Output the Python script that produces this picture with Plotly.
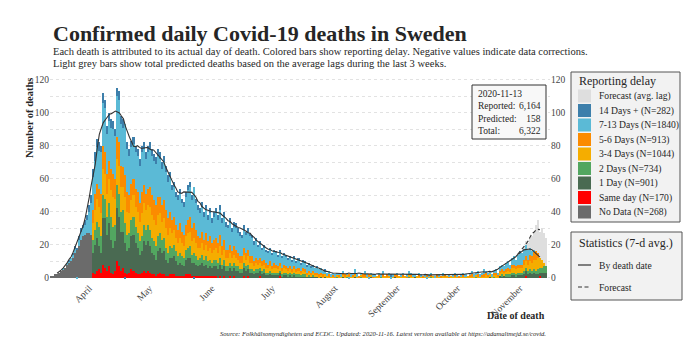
import pandas as pd
import plotly.graph_objects as go

dates = pd.date_range("2020-03-11", "2020-11-12", freq="D")

# ---- daily deaths by reporting delay (Mar 11 .. Nov 12) ----
no_data = (
    [1,1,2,2,3,4,5,6,8,9,10,12,15,17,19,23,25,26,27,27,26]                                   # Mar 11-31
    + [0,0,0,0,0,0,0,0,0,0,0,0,0,0,0,0,0,0,0,0,0,0,0,0,0,0,0,0,0,0]                          # Apr
    + [0,0,0,0,0,0,0,0,0,0,0,0,0,0,0,0,0,0,0,0,0,0,0,0,0,0,0,0,0,0,0]                        # May
    + [0,0,0,0,0,0,0,0,0,0,0,0,0,0,0,0,0,0,0,0,0,0,0,0,0,0,0,0,0,0]                          # Jun
    + [0,0,0,0,0,0,0,0,0,0,0,0,0,0,0,0,0,0,0,0,0,0,0,0,0,0,0,0,0,0,0]                        # Jul
    + [0,0,0,0,0,0,0,0,0,0,0,0,0,0,0,0,0,0,0,0,0,0,0,0,0,0,0,0,0,0,0]                        # Aug
    + [0,0,0,0,0,0,0,0,0,0,0,0,0,0,0,0,0,0,0,0,0,0,0,0,0,0,0,0,0,0]                          # Sep
    + [0,0,0,0,0,0,0,0,0,0,0,0,0,0,0,0,0,0,0,0,0,0,0,0,0,0,0,0,0,0,0]                        # Oct
    + [0,0,0,0,0,0,0,0,0,0,0,0]                                                              # Nov 1-12
)
same_day = (
    [0,0,0,0,0,0,0,0,0,0,0,0,0,0,0,0,0,0,0,0,0]
    + [3,2,4,5,3,8,6,4,7,3,2,4,10,7,4,6,3,2,3,5,4,3,2,2,3,4,3,4,3,2]
    + [2,1,2,3,2,2,1,1,2,2,2,1,1,1,1,1,2,2,2,1,1,1,1,1,1,1,1,1,1,1,1]
    + [1,0,1,0,1,0,0,1,0,1,0,0,0,0,1,0,1,0,0,0,0,0,1,0,0,0,0,0,0,0]
    + [0,0,1,0,0,0,0,0,0,0,0,0,0,0,0,0,0,0,0,0,0,0,0,0,0,0,0,0,0,0,0]
    + [0,0,0,0,0,0,0,0,0,0,0,0,0,0,0,0,0,0,0,0,0,0,0,0,0,0,0,0,0,0,0]
    + [0,0,0,0,0,0,0,0,0,0,0,0,0,0,0,0,0,0,0,0,0,0,0,0,0,0,0,0,0,0]
    + [0,0,0,0,0,0,0,0,0,0,0,0,0,0,0,0,0,0,0,0,0,0,0,0,0,0,0,0,0,0,0]
    + [0,1,0,0,0,0,0,0,1,0,0,0]
)
day_1 = (
    [0,0,0,0,0,0,0,0,0,0,0,0,0,0,0,0,0,0,0,0,0]
    + [12,18,20,14,12,28,30,22,26,20,16,18,32,30,24,22,18,14,15,20,22,18,16,12,13,18,17,18,16,13]
    + [12,10,14,15,13,14,10,8,10,10,11,9,7,8,7,6,9,10,10,8,8,7,6,7,8,6,7,5,6,5,6]
    + [6,5,7,5,6,4,4,5,4,5,4,4,3,3,5,4,4,3,3,2,3,3,3,2,3,2,2,2,2,2]
    + [2,2,2,1,2,2,1,2,1,2,1,1,1,1,1,1,1,1,1,1,1,0,1,0,1,0,0,0,0,0,0]
    + [0,0,1,0,0,0,0,0,1,0,0,0,0,0,0,0,1,0,0,0,0,0,0,0,0,0,0,0,1,0,0]
    + [0,0,0,0,0,0,0,1,0,0,0,0,0,0,0,0,0,0,0,0,0,0,0,0,0,0,0,0,0,0]
    + [0,0,0,0,0,0,0,0,0,0,0,0,0,0,1,0,0,0,0,1,1,1,1,1,1,2,2,1,2,2,2]
    + [2,3,2,3,2,3,2,2,2,3,3,3]
)
day_2 = (
    [0,0,0,0,0,0,0,0,0,0,0,0,0,0,0,0,0,0,0,0,0]
    + [8,9,10,12,10,14,12,11,12,14,13,10,14,14,12,13,12,10,9,10,11,10,9,8,9,10,9,10,10,9]
    + [8,8,9,9,8,8,7,6,7,6,7,6,5,6,5,5,6,6,7,5,6,5,4,4,5,4,5,4,4,3,4]
    + [4,4,4,3,4,3,3,3,3,3,3,3,2,2,3,3,3,2,2,2,2,2,2,2,2,1,1,2,1,1]
    + [1,1,1,1,1,1,1,1,1,1,1,1,1,1,1,0,1,0,1,0,0,0,0,0,0,0,0,0,0,0,1]
    + [0,0,0,0,1,0,0,0,0,0,0,1,0,0,0,0,0,0,0,0,0,1,0,0,0,0,0,0,0,0,0]
    + [0,0,0,0,1,0,0,0,0,0,0,0,0,0,0,1,0,0,0,0,0,0,0,0,0,0,0,0,0,0]
    + [0,0,0,0,0,0,0,1,0,0,0,0,0,0,0,0,1,0,0,0,1,0,1,1,1,1,1,1,1,1,1]
    + [2,2,2,2,2,2,2,3,3,3,4,4]
)
days_3_4 = (
    [0,0,0,0,0,0,0,0,0,0,0,0,0,0,0,0,0,0,0,0,0]
    + [10,12,14,12,14,16,15,14,15,16,18,16,16,17,15,14,16,14,12,12,13,12,13,12,14,13,12,12,14,14]
    + [13,13,13,12,11,12,12,11,11,9,9,8,8,9,8,7,8,9,9,8,9,8,7,6,7,6,7,6,7,6,6]
    + [7,6,7,6,6,5,5,6,5,5,5,4,4,4,5,4,5,4,4,3,4,3,3,3,3,3,3,3,2,3]
    + [3,2,3,2,3,2,2,2,2,2,2,2,1,2,2,1,1,1,1,1,1,1,1,1,1,1,1,1,1,0,1]
    + [1,1,1,1,1,1,1,1,1,1,0,1,1,1,1,1,1,0,1,1,1,0,1,1,1,1,0,1,0,1,1]
    + [1,1,1,0,1,1,1,0,1,1,1,0,1,1,1,0,1,0,1,1,0,1,1,1,0,1,1,1,1,0]
    + [1,1,1,1,1,1,1,1,1,1,1,1,2,1,1,1,1,2,1,2,2,2,2,2,2,3,3,3,3,3,3]
    + [4,4,4,5,5,6,7,7,6,5,2,0]
)
days_5_6 = (
    [0,0,0,0,0,0,0,0,0,0,0,0,0,0,0,0,0,0,0,0,0]
    + [8,10,9,11,12,14,13,12,11,13,14,12,13,14,13,12,13,12,11,10,10,11,12,11,13,11,10,10,12,12]
    + [12,12,11,10,10,11,11,10,10,8,8,8,8,9,7,7,7,8,9,8,9,8,7,6,7,6,7,6,7,6,6]
    + [6,6,7,5,6,5,5,5,4,5,5,4,4,4,4,4,4,4,4,3,3,3,3,3,3,3,2,3,2,3]
    + [2,2,2,2,2,2,2,2,1,2,1,2,1,2,1,1,1,1,1,1,1,1,1,1,0,0,1,0,1,1,0]
    + [1,0,1,1,0,1,0,1,1,0,1,0,1,1,0,1,0,1,0,0,1,0,1,0,1,0,1,0,1,1,0]
    + [0,1,0,1,0,1,0,0,0,1,0,1,0,1,0,1,0,0,1,0,1,0,1,0,1,0,0,1,0,1]
    + [0,1,0,0,1,1,0,0,1,0,1,1,1,1,0,0,1,1,1,1,1,1,1,2,1,2,2,2,2,2,2]
    + [3,3,3,4,4,5,5,3,0,0,0,0]
)
days_7_13 = (
    [0,0,0,0,0,0,1,0,1,1,2,2,3,-1,4,5,5,6,8,13,19]
    + [20,20,22,23,25,26,27,24,24,25,27,26,25,26,25,24,31,26,24,22,21,22,22,23,24,22,21,22,23,24]
    + [24,25,25,23,22,23,23,22,21,18,18,17,18,18,17,17,17,18,18,17,22,16,16,15,15,14,14,13,14,12,14]
    + [15,14,15,14,14,14,13,13,12,12,13,12,12,11,11,11,11,12,11,10,10,8,8,7,7,7,7,7,7,7]
    + [7,6,7,6,6,6,5,5,5,5,4,5,4,4,4,4,4,3,3,3,3,3,3,2,2,2,2,1,1,1,1]
    + [1,1,1,0,1,-1,1,1,2,1,0,1,0,2,1,-1,1,1,1,0,1,1,2,0,0,2,-1,1,0,1,0]
    + [1,1,0,1,2,1,1,1,0,1,1,0,1,-1,1,1,0,1,0,1,0,2,0,0,1,0,1,1,1,0]
    + [1,1,1,0,1,2,1,1,2,1,1,3,1,1,2,1,1,2,1,3,3,3,4,4,3,4,5,4,6,8,7]
    + [7,7,6,4,3,1,0,0,0,0,0,0]
)
days_14_plus = (
    [0,0,0,0,0,0,0,0,0,1,0,1,1,1,2,2,2,3,3,4,5]
    + [5,5,5,5,4,6,5,5,5,5,5,4,5,5,5,5,-1,4,4,4,4,4,4,4,4,4,4,4,4,4]
    + [4,4,4,4,4,4,4,4,3,3,3,3,3,3,3,3,3,3,3,3,-1,3,3,3,3,3,3,3,3,3,3]
    + [3,3,3,3,3,3,2,3,2,3,3,3,3,2,3,2,2,2,2,2,2,1,2,1,2,1,1,1,1,1]
    + [1,1,1,1,1,1,1,1,1,1,1,1,1,1,1,1,1,1,1,0,1,0,0,0,1,0,0,0,0,0,0]
    + [0,0,0,0,0,0,0,0,0,0,0,0,0,0,0,0,0,0,0,0,0,0,0,0,0,0,1,0,0,0,0]
    + [0,0,0,0,0,0,0,0,0,0,0,0,0,0,0,0,0,0,0,0,0,0,0,0,0,0,0,0,0,0]
    + [0,0,0,0,0,0,0,0,0,0,0,0,0,0,0,0,0,0,0,0,0,0,0,0,0,0,0,0,0,0,0]
    + [0,0,0,0,0,0,0,0,0,0,0,0]
)
forecast = (
    [0,0,0,0,0,0,0,0,0,0,0,0,0,0,0,0,0,0,0,0,0]
    + [0,0,0,0,0,0,0,0,0,0,0,0,0,0,0,0,0,0,0,0,0,0,0,0,0,0,0,0,0,0]
    + [0,0,0,0,0,0,0,0,0,0,0,0,0,0,0,0,0,0,0,0,0,0,0,0,0,0,0,0,0,0,0]
    + [0,0,0,0,0,0,0,0,0,0,0,0,0,0,0,0,0,0,0,0,0,0,0,0,0,0,0,0,0,0]
    + [0,0,0,0,0,0,0,0,0,0,0,0,0,0,0,0,0,0,0,0,0,0,0,0,0,0,0,0,0,0,0]
    + [0,0,0,0,0,0,0,0,0,0,0,0,0,0,0,0,0,0,0,0,0,0,0,0,0,0,0,0,0,0,0]
    + [0,0,0,0,0,0,0,0,0,0,0,0,0,0,0,0,0,0,0,0,0,0,0,0,0,0,0,0,0,0]
    + [0,0,0,0,0,0,0,0,0,0,0,0,0,0,0,0,0,0,0,0,0,0,0,0,0,0,0,0,0,0,0]
    + [1,2,4,6,9,11,16,20,16,19,18,17]
)

series = [
    ("No Data (N=268)", no_data, "#6b6b6b"),
    ("Same day (N=170)", same_day, "#ff0000"),
    ("1 Day (N=901)", day_1, "#4a6a52"),
    ("2 Days (N=734)", day_2, "#52a660"),
    ("3-4 Days (N=1044)", days_3_4, "#f5ad00"),
    ("5-6 Days (N=913)", days_5_6, "#fb8b00"),
    ("7-13 Days (N=1840)", days_7_13, "#5bbad6"),
    ("14 Days + (N=282)", days_14_plus, "#3d7fab"),
    ("Forecast (avg. lag)", forecast, "#dedede"),
]
for name, vals, _ in series:
    assert len(vals) == len(dates), (name, len(vals))

month_ticks = ["2020-04-01", "2020-05-01", "2020-06-01", "2020-07-01",
               "2020-08-01", "2020-09-01", "2020-10-01", "2020-11-01"]
month_labels = ["April", "May", "June", "July", "August", "September", "October", "November"]
y_ticks = [0, 20, 40, 60, 80, 100, 120]

# 7-day centred averages
df = pd.DataFrame({name: vals for name, vals, _ in series}, index=dates)
reported = df.drop(columns=["Forecast (avg. lag)"]).sum(axis=1)
with_fc = reported + df["Forecast (avg. lag)"]
avg_rep = reported.rolling(7, center=True).mean()
avg_fc = with_fc.rolling(7, center=True).mean()
fc_window = df["Forecast (avg. lag)"].rolling(7, center=True).sum()
avg_fc = avg_fc.where(fc_window > 0)

FONT = "Liberation Serif"
INK = "#262626"
DASH = "4px,2.5px"
fig = go.Figure()
for name, vals, color in series:
    fig.add_trace(go.Bar(x=dates, y=vals, name=name, marker_color=color,
                         marker_line_width=0, showlegend=False))

fig.add_trace(go.Scatter(x=dates, y=avg_rep, mode="lines", name="By death date",
                         line=dict(color="#333333", width=1.1), showlegend=False))
fig.add_trace(go.Scatter(x=dates, y=avg_fc, mode="lines", name="Forecast",
                         line=dict(color="#333333", width=1.1, dash=DASH), showlegend=False))
fig.add_trace(go.Scatter(x=[dates[0]], y=[0], yaxis="y2", mode="markers",
                         marker=dict(opacity=0), showlegend=False, hoverinfo="skip"))

W, H = 690, 361
L, R, T, B = 50, 140, 78, 81
pw, ph = W - L - R, H - T - B


def px(x):
    return (x - L) / pw


def py(y):
    return (T + ph - y) / ph


yr = [-1.39, 121.03]
fig.update_layout(
    width=W, height=H, margin=dict(l=L, r=R, t=T, b=B, autoexpand=False),
    paper_bgcolor="white", plot_bgcolor="white",
    barmode="relative", bargap=0, showlegend=False,
    font=dict(family=FONT, size=9.5, color="#444444"),
    xaxis=dict(range=["2020-03-10 12:00", "2020-11-14 00:00"], tickvals=month_ticks,
               ticktext=month_labels, tickangle=-45, showgrid=False, zeroline=False,
               showline=False, ticks="", automargin=False, ticklabelshift=-4,
               tickfont=dict(size=9.5, color="#444444")),
    yaxis=dict(range=yr, tickvals=y_ticks, showgrid=True, automargin=False,
               gridcolor="#e2e2e2", griddash="dot", gridwidth=1, zeroline=False,
               ticks="", tickfont=dict(size=9.5, color="#444444"),
               minor=dict(tickvals=[10, 30, 50, 70, 90, 110], showgrid=True,
                          gridcolor="#e2e2e2", griddash="dot")),
    yaxis2=dict(range=yr, overlaying="y", side="right", tickvals=y_ticks, automargin=False,
                showgrid=False, zeroline=False, ticks="", tickfont=dict(size=9.5, color="#444444")),
)


def ann(x, y, text, size, xanchor="left", **kw):
    fig.add_annotation(xref="paper", yref="paper", x=px(x), y=py(y), xanchor=xanchor,
                       yanchor="middle", text=text, showarrow=False,
                       font=dict(size=size, color=kw.pop("color", INK), family=FONT), **kw)


def rect(x0, y0, x1, y1, fill, line=None, lw=1):
    fig.add_shape(type="rect", xref="paper", yref="paper", x0=px(x0), x1=px(x1),
                  y0=py(y1), y1=py(y0), fillcolor=fill,
                  line=dict(color=line or fill, width=lw if line else 0), layer="above")


# ---- legend: reporting delay (drawn by hand) ----
rect(571, 72, 680, 222, "#f2f2f2", "#555555")
ann(577, 81, "Reporting delay", 12)
item_y0, item_step = 96, 14.5
for i, (name, _, color) in enumerate(reversed(series)):
    yc = item_y0 + i * item_step
    rect(578, yc - 6.5, 591, yc + 6.5, color)
    ann(597, yc, name, 9.6)

# ---- legend: statistics ----
rect(571, 232, 682, 300, "#f2f2f2", "#555555")
ann(577, 243, "Statistics (7-d avg.)", 12)
for yc, dash, label in [(265, "solid", "By death date"), (287, DASH, "Forecast")]:
    fig.add_shape(type="line", xref="paper", yref="paper", x0=px(578), x1=px(591),
                  y0=py(yc), y1=py(yc), line=dict(color="#333333", width=1.2, dash=dash),
                  layer="above")
    ann(597, yc, label, 9.6)

# ---- info box ----
rect(472, 85, 546, 139, "#f8f8f8", "#333333")
ann(476, 112, "2020-11-13<br>Reported:<br>Predicted:<br>Total:", 9.5, align="left")
ann(543, 112, "&nbsp;<br>6,164<br>158<br>6,322", 9.5, xanchor="right", align="right")

# ---- titles ----
ann(51, 33, "<b>Confirmed daily Covid-19 deaths in Sweden</b>", 22)
ann(51, 51.5, "Each death is attributed to its actual day of death. Colored bars show reporting delay. "
              "Negative values indicate data corrections.", 10.5)
ann(51, 63.5, "Light grey bars show total predicted deaths based on the average lags during the last 3 weeks.", 10.5)
ann(29, 118, "<b>Number of deaths</b>", 10.5, xanchor="center", textangle=-90)
ann(547, 315, "<b>Date of death</b>", 10, xanchor="right")
ann(548, 333, "<i>Source: Folkhälsomyndigheten and ECDC. Updated: 2020-11-16. "
              "Latest version available at https://adamaltmejd.se/covid.</i>", 6.6, xanchor="right")

fig.write_html("out.html", config={"displayModeBar": False},
               post_script="document.body.style.margin='0px';")
